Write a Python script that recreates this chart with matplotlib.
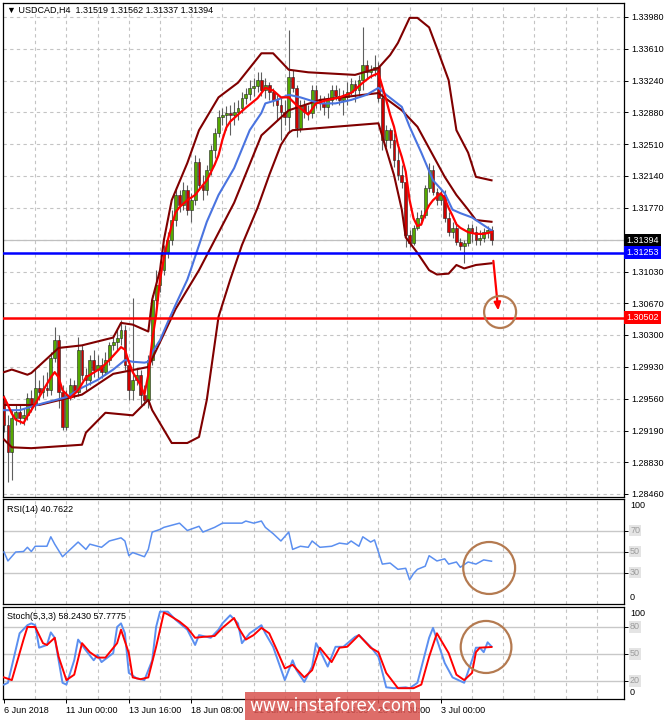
import matplotlib
matplotlib.use("Agg")
import matplotlib.pyplot as plt
import matplotlib.transforms as mtransforms
from matplotlib.patches import Ellipse, Rectangle

plt.rcParams["font.family"] = ["Liberation Sans", "DejaVu Sans"]
plt.rcParams["font.size"] = 6.5

# USDCAD H4 candles
opens = [1.2955, 1.2926, 1.2895, 1.2934, 1.2941, 1.2934, 1.2937, 1.2957, 1.2949, 1.2969,
         1.2964, 1.2969, 1.2966, 1.3003, 1.3024, 1.2964, 1.2924, 1.2961, 1.2972, 1.2964,
         1.3013, 1.2984, 1.2978, 1.3001, 1.2990, 1.2995, 1.2987, 1.3001, 1.3018, 1.3022,
         1.3026, 1.3036, 1.2995, 1.2966, 1.2978, 1.2984, 1.2961, 1.2955, 1.3001, 1.3071,
         1.3088, 1.3105, 1.3126, 1.3140, 1.3163, 1.3192, 1.3180, 1.3198, 1.3175, 1.3186,
         1.3230, 1.3204, 1.3198, 1.3221, 1.3244, 1.3264, 1.3282, 1.3285, 1.3287, 1.3285,
         1.3288, 1.3293, 1.3304, 1.3309, 1.3316, 1.3318, 1.3325, 1.3313, 1.3319, 1.3311,
         1.3302, 1.3296, 1.3288, 1.3282, 1.3329, 1.3316, 1.3270, 1.3296, 1.3288, 1.3287,
         1.3313, 1.3302, 1.3298, 1.3294, 1.3302, 1.3313, 1.3307, 1.3302, 1.3305, 1.3311,
         1.3320, 1.3313, 1.3325, 1.3342, 1.3334, 1.3337, 1.3340, 1.3304, 1.3256, 1.3267,
         1.3256, 1.3233, 1.3215, 1.3207, 1.3146, 1.3136, 1.3154, 1.3165, 1.3169, 1.3200,
         1.3221, 1.3196, 1.3186, 1.3192, 1.3165, 1.3149, 1.3154, 1.3138, 1.3133, 1.3137,
         1.3154, 1.3149, 1.3140, 1.3142, 1.3149, 1.31519]
highs = [1.2961, 1.2937, 1.2943, 1.2949, 1.2949, 1.2946, 1.2963, 1.2966, 1.2992, 1.2978,
         1.2984, 1.2987, 1.3010, 1.3039, 1.3030, 1.2972, 1.2966, 1.2980, 1.2978, 1.3028,
         1.3018, 1.2992, 1.3007, 1.3013, 1.3007, 1.3003, 1.3010, 1.3022, 1.3030, 1.3038,
         1.3047, 1.3042, 1.3001, 1.3073, 1.2992, 1.2990, 1.2972, 1.3007, 1.3076, 1.3105,
         1.3114, 1.3134, 1.3149, 1.3175, 1.3201, 1.3198, 1.3207, 1.3204, 1.3194, 1.3238,
         1.3235, 1.3215, 1.3227, 1.3250, 1.3269, 1.3290, 1.3293, 1.3295, 1.3296, 1.3300,
         1.3302, 1.3311, 1.3316, 1.3325, 1.3327, 1.3334, 1.3334, 1.3327, 1.3323, 1.3316,
         1.3308, 1.3304, 1.3302, 1.3383, 1.3337, 1.3319, 1.3302, 1.3302, 1.3296, 1.3319,
         1.3319, 1.3308, 1.3307, 1.3310, 1.3319, 1.3319, 1.3316, 1.3313, 1.3323, 1.3327,
         1.3325, 1.3331, 1.3386, 1.3348, 1.3342, 1.3354, 1.3346, 1.3310, 1.3273, 1.3270,
         1.3264, 1.3246, 1.3227, 1.3215, 1.3151, 1.3157, 1.3172, 1.3175, 1.3204, 1.3229,
         1.3227, 1.3200, 1.3198, 1.3198, 1.3172, 1.3161, 1.3161, 1.3142, 1.3140, 1.3158,
         1.3158, 1.3156, 1.3151, 1.3154, 1.3156, 1.31562]
lows = [1.2918, 1.2860, 1.2862, 1.2926, 1.2927, 1.2926, 1.2932, 1.2941, 1.2943, 1.2955,
        1.2957, 1.2959, 1.2961, 1.2999, 1.2946, 1.2920, 1.2920, 1.2955, 1.2957, 1.2959,
        1.2978, 1.2966, 1.2972, 1.2981, 1.2980, 1.2980, 1.2984, 1.2995, 1.3013, 1.3013,
        1.3018, 1.2990, 1.2955, 1.2955, 1.2972, 1.2949, 1.2949, 1.2946, 1.2995, 1.3065,
        1.3080, 1.3099, 1.3119, 1.3134, 1.3156, 1.3172, 1.3175, 1.3169, 1.3161, 1.3180,
        1.3198, 1.3186, 1.3192, 1.3215, 1.3235, 1.3259, 1.3273, 1.3267, 1.3261, 1.3273,
        1.3279, 1.3287, 1.3297, 1.3302, 1.3307, 1.3311, 1.3307, 1.3304, 1.3302, 1.3295,
        1.3279, 1.3256, 1.3273, 1.3264, 1.3311, 1.3259, 1.3265, 1.3281, 1.3279, 1.3281,
        1.3293, 1.3290, 1.3285, 1.3281, 1.3296, 1.3302, 1.3296, 1.3285, 1.3296, 1.3308,
        1.3300, 1.3307, 1.3313, 1.3327, 1.3327, 1.3330, 1.3300, 1.3244, 1.3248, 1.3246,
        1.3224, 1.3209, 1.3200, 1.3132, 1.3132, 1.3134, 1.3151, 1.3157, 1.3165, 1.3196,
        1.3192, 1.3180, 1.3180, 1.3161, 1.3145, 1.3142, 1.3134, 1.3128, 1.3113, 1.3133,
        1.3138, 1.3134, 1.3134, 1.3138, 1.3142, 1.31337]
closes = [1.2926, 1.2895, 1.2934, 1.2941, 1.2934, 1.2937, 1.2957, 1.2949, 1.2969, 1.2964,
          1.2969, 1.2966, 1.3003, 1.3024, 1.2964, 1.2924, 1.2961, 1.2972, 1.2964, 1.3013,
          1.2984, 1.2978, 1.3001, 1.2990, 1.2995, 1.2987, 1.3001, 1.3018, 1.3022, 1.3026,
          1.3036, 1.2995, 1.2966, 1.2978, 1.2984, 1.2961, 1.2955, 1.3001, 1.3071, 1.3088,
          1.3105, 1.3126, 1.3140, 1.3163, 1.3192, 1.3180, 1.3198, 1.3175, 1.3186, 1.3230,
          1.3204, 1.3198, 1.3221, 1.3244, 1.3264, 1.3282, 1.3285, 1.3287, 1.3285, 1.3288,
          1.3293, 1.3304, 1.3309, 1.3316, 1.3318, 1.3325, 1.3313, 1.3319, 1.3311, 1.3302,
          1.3296, 1.3288, 1.3282, 1.3329, 1.3316, 1.3270, 1.3296, 1.3288, 1.3287, 1.3313,
          1.3302, 1.3298, 1.3294, 1.3302, 1.3313, 1.3307, 1.3302, 1.3305, 1.3311, 1.3320,
          1.3313, 1.3325, 1.3342, 1.3334, 1.3337, 1.3340, 1.3304, 1.3256, 1.3267, 1.3256,
          1.3233, 1.3215, 1.3207, 1.3146, 1.3136, 1.3154, 1.3165, 1.3169, 1.3200, 1.3221,
          1.3196, 1.3186, 1.3192, 1.3165, 1.3149, 1.3154, 1.3138, 1.3133, 1.3137, 1.3154,
          1.3149, 1.3140, 1.3142, 1.3149, 1.3152, 1.31394]

# indicator lines, (bar, value) read at their turning points
bb_upper = [(0, 1.2987), (2, 1.2990), (6, 1.2984), (7, 1.2986), (14, 1.3015), (20, 1.3018),
            (28, 1.3027), (30, 1.3044), (33, 1.3042), (37, 1.3034), (38, 1.3071), (40, 1.3105),
            (41, 1.3140), (43, 1.3186), (47, 1.3229), (50, 1.3267), (55, 1.3305), (60, 1.3322),
            (66, 1.3356), (69, 1.3356), (73, 1.3337), (78, 1.3334), (90, 1.3331), (96, 1.3339),
            (99, 1.3354), (101, 1.3368), (104, 1.3397), (106, 1.3397), (109, 1.3386),
            (111, 1.3362), (114, 1.3325), (116, 1.3267), (119, 1.3241), (121, 1.3213), (125, 1.3209)]
bb_middle = [(0, 1.2949), (9, 1.2949), (20, 1.2961), (28, 1.2985), (37, 1.2993), (44, 1.3060),
             (50, 1.3105), (59, 1.3183), (66, 1.3261), (73, 1.3290), (81, 1.3302), (96, 1.3310),
             (102, 1.3290), (106, 1.3271), (113, 1.3213), (116, 1.3192), (119, 1.3175),
             (121, 1.3163), (125, 1.3161)]
bb_lower = [(0, 1.2909), (2, 1.2900), (7, 1.2899), (20, 1.2903), (21, 1.2917), (26, 1.2940),
            (33, 1.2937), (37, 1.2955), (38, 1.2943), (43, 1.2905), (47, 1.2905), (50, 1.2912),
            (52, 1.2955), (55, 1.3051), (58, 1.3094), (61, 1.3134), (65, 1.3177), (68, 1.3215),
            (71, 1.3250), (73, 1.3264), (74, 1.3267), (96, 1.3275), (100, 1.3215), (102, 1.3175),
            (103, 1.3143), (106, 1.3125), (109, 1.3105), (111, 1.3100), (114, 1.3101),
            (116, 1.3111), (118, 1.3107), (121, 1.3111), (125, 1.3113)]
ma_fast = [(0, 1.2958), (1, 1.2949), (2, 1.2939), (3, 1.2932), (5, 1.2928), (6, 1.2936), (7, 1.2943),
           (9, 1.2958), (12, 1.2981), (13, 1.2987), (14, 1.2981), (15, 1.2966), (17, 1.2957),
           (19, 1.2966), (21, 1.2981), (25, 1.2992), (27, 1.3001), (30, 1.3016), (31, 1.3013),
           (32, 1.2999), (33, 1.2987), (35, 1.2972), (36, 1.2961), (37, 1.2984), (38, 1.3024),
           (39, 1.3053), (40, 1.3094), (41, 1.3119), (42, 1.3140), (43, 1.3157), (44, 1.3172),
           (45, 1.3178), (47, 1.3186), (49, 1.3192), (50, 1.3198), (52, 1.3209), (54, 1.3227),
           (55, 1.3238), (56, 1.3256), (57, 1.3270), (58, 1.3277), (60, 1.3285), (62, 1.3293),
           (65, 1.3304), (67, 1.3316), (69, 1.3313), (71, 1.3305), (73, 1.3305), (75, 1.3296),
           (78, 1.3285), (80, 1.3298), (83, 1.3302), (86, 1.3305), (89, 1.3310), (92, 1.3322),
           (94, 1.3329), (96, 1.3333), (98, 1.3302), (99, 1.3285), (100, 1.3271), (101, 1.3250),
           (102, 1.3236), (103, 1.3219), (104, 1.3186), (105, 1.3165), (106, 1.3156),
           (107, 1.3158), (108, 1.3171), (109, 1.3180), (110, 1.3186), (112, 1.3194),
           (113, 1.3188), (114, 1.3177), (115, 1.3168), (116, 1.3158), (117, 1.3154),
           (119, 1.3149), (121, 1.3147), (123, 1.3147), (125, 1.3149)]
ma_slow = [(0, 1.2943), (4, 1.2943), (7, 1.2947), (10, 1.2951), (16, 1.2958), (20, 1.2969),
           (24, 1.2978), (26, 1.2984), (28, 1.2990), (31, 1.3001), (33, 1.2999), (36, 1.2998),
           (37, 1.2999), (38, 1.3010), (40, 1.3024), (42, 1.3045), (44, 1.3065), (47, 1.3094),
           (48, 1.3107), (50, 1.3134), (52, 1.3161), (55, 1.3192), (59, 1.3223), (63, 1.3267),
           (66, 1.3287), (67, 1.3298), (70, 1.3302), (73, 1.3308), (76, 1.3305), (81, 1.3298),
           (85, 1.3298), (89, 1.3302), (93, 1.3308), (96, 1.3316), (98, 1.3308), (102, 1.3294),
           (104, 1.3271), (107, 1.3241), (110, 1.3209), (113, 1.3194), (115, 1.3175),
           (117, 1.3171), (120, 1.3166), (125, 1.3151)]

rsi = [(0, 49.5), (1, 41), (3, 49.5), (5, 50), (6, 54), (7, 50), (8, 55), (11, 55), (12, 64),
       (13, 57), (15, 45), (17, 52), (19, 59), (21, 52), (22, 57), (25, 54), (27, 60), (30, 63),
       (31, 60), (32, 46), (33, 49), (36, 45), (37, 52), (38, 68.5), (40, 71), (41, 73), (43, 75),
       (45, 77), (47, 70), (50, 74), (51, 68.5), (54, 73), (56, 77), (61, 77), (62, 79), (64, 77),
       (66, 79), (67, 73), (69, 67), (71, 60), (73, 68.5), (74, 52), (76, 55), (78, 54), (79, 60),
       (81, 54), (84, 55), (86, 58), (88, 57), (89, 60), (91, 55), (92, 64), (94, 59), (95, 61),
       (97, 38), (99, 39), (101, 33), (103, 34), (104, 23), (105, 29), (106, 33), (108, 36),
       (109, 46), (111, 41), (113, 43), (114, 38), (116, 40), (117, 35), (119, 40), (121, 38),
       (123, 42), (125, 40.76)]
stoch_k = [(0, 16), (1, 18), (4, 73), (6, 82), (7, 84), (8, 82), (9, 57), (11, 60), (12, 74),
           (13, 68), (15, 18), (16, 16), (18, 43), (19, 66), (21, 54), (23, 43), (24, 49), (25, 41),
           (28, 51), (29, 80), (30, 84), (31, 73), (32, 29), (34, 23), (36, 21), (38, 43), (39, 80),
           (40, 97), (42, 97), (44, 88), (47, 77), (49, 60), (50, 71), (53, 68), (55, 77), (56, 84),
           (58, 93), (60, 84), (61, 62), (63, 73), (66, 82), (67, 73), (69, 58), (72, 21), (74, 43),
           (75, 32), (77, 19), (79, 36), (80, 62), (81, 54), (83, 36), (85, 58), (87, 58), (90, 69),
           (91, 71), (94, 58), (96, 47), (98, 13), (100, 12), (103, 13), (104, 12), (106, 18),
           (109, 68), (110, 79), (111, 66), (113, 40), (115, 24), (116, 22), (118, 18), (120, 43),
           (121, 57), (122, 57), (123, 52), (124, 63), (125, 58.24)]
stoch_d = [(0, 24), (2, 21), (5, 66), (6, 80), (8, 80), (10, 62), (11, 60), (13, 68), (14, 47),
           (16, 21), (18, 27), (20, 62), (22, 52), (24, 46), (26, 46), (29, 62), (30, 77), (32, 51),
           (33, 24), (35, 22), (37, 24), (39, 58), (41, 96), (42, 94), (45, 86), (47, 79), (49, 68),
           (51, 69), (54, 70), (56, 79), (59, 90), (60, 80), (62, 66), (64, 71), (66, 79), (68, 73),
           (70, 54), (72, 34), (74, 38), (77, 24), (79, 32), (81, 57), (84, 41), (86, 57), (88, 58),
           (91, 71), (94, 57), (96, 52), (98, 29), (101, 12), (105, 12), (107, 16), (109, 47),
           (111, 73), (114, 51), (116, 27), (118, 21), (120, 29), (121, 52), (122, 57), (125, 57.78)]

price_ticks = [1.33980, 1.33610, 1.33240, 1.32880, 1.32510, 1.32140, 1.31770, 1.31400,
               1.31030, 1.30670, 1.30300, 1.29930, 1.29560, 1.29190, 1.28830, 1.28460]
date_bars = [0, 16, 32, 48, 64, 80, 96, 112]
date_labels = ["6 Jun 2018", "11 Jun 00:00", "13 Jun 16:00", "18 Jun 08:00",
               "21 Jun 00:00", "25 Jun 16:00", "28 Jun 08:00", "3 Jul 00:00"]
last_price = 1.31394
support = 1.31253
target = 1.30502


def unzip(pts):
    return [p[0] for p in pts], [p[1] for p in pts]


fig = plt.figure(figsize=(6.65, 7.2), dpi=100)
W, H = 665, 720
ax = fig.add_axes([3 / W, 1 - 497 / H, 621 / W, 494 / H])
ax_rsi = fig.add_axes([3 / W, 1 - 604 / H, 621 / W, 105 / H], sharex=ax)
ax_st = fig.add_axes([3 / W, 1 - 699 / H, 621 / W, 92 / H], sharex=ax)

grid_kw = dict(color="#c4c4c4", lw=0.8, ls=(0, (3, 3)), zorder=0)
for a in (ax, ax_rsi, ax_st):
    for b in range(8, 160, 8):
        a.axvline(b, **grid_kw)
    for s in a.spines.values():
        s.set_color("black")
        s.set_linewidth(0.9)
    a.tick_params(axis="y", left=False, labelleft=False, right=True, labelright=False,
                  length=3, width=0.7, pad=2)
    a.tick_params(axis="x", length=3, width=0.7)

# ---- main chart ----
for p in price_ticks:
    ax.axhline(p, **grid_kw)

bars = list(range(len(closes)))
up = [c >= o for o, c in zip(opens, closes)]
ax.vlines(bars, lows, highs, color="#5f5f5f", lw=0.8, zorder=2)
ax.bar(bars, [max(abs(c - o), 0.00005) for o, c in zip(opens, closes)],
       bottom=[min(o, c) for o, c in zip(opens, closes)], width=0.72,
       color=["#55a800" if u else "#d00000" for u in up],
       edgecolor="#222222", linewidth=0.4, zorder=3)

for pts in (bb_upper, bb_middle, bb_lower):
    ax.plot(*unzip(pts), color="#800000", lw=1.5, zorder=4)
ax.plot(*unzip(ma_slow), color="#4a74e0", lw=1.5, zorder=5)
ax.plot(*unzip(ma_fast), color="#ff0000", lw=1.6, zorder=6)

ax.axhline(last_price, color="#c0c0c0", lw=0.9, zorder=1)
ax.axhline(support, color="#0000ff", lw=1.8, zorder=7)
ax.axhline(target, color="#ff0000", lw=1.8, zorder=7)

ax.set_xlim(-0.26, 158.97)
ax.set_ylim(1.28425, 1.34142)
ax.set_yticks(price_ticks)
ax.tick_params(axis="y", labelright=True, labelsize=6.5)
# the 1.31400 label sits under the last-price box, as in the terminal
ax.set_yticklabels(["" if abs(p - last_price) < 0.0002 else f"{p:.5f}" for p in price_ticks])
ax.tick_params(axis="x", labelbottom=False, length=0)

tr = mtransforms.blended_transform_factory(ax.transAxes, ax.transData)
for val, fc in ((last_price, "black"), (support, "#0000ff"), (target, "#ff0000")):
    ax.text(1.0035, val, f"{val:.5f}", transform=tr, ha="left", va="center", color="white",
            fontsize=6.5, zorder=10,
            bbox=dict(boxstyle="square,pad=0.25", fc=fc, ec="none"))

ax.annotate("", xy=(126.8, 1.3055), xytext=(125.4, 1.3119),
            arrowprops=dict(arrowstyle="-|>,head_length=0.7,head_width=0.3",
                            color="#ff0000", lw=1.6))
ax.add_patch(Ellipse((127.2, 1.30566), 8.2, 0.0037, fill=False, ec="#b47a50", lw=1.6, zorder=8))

fig.text(7 / W, 1 - 10 / H, "\u25bc USDCAD,H4  1.31519 1.31562 1.31337 1.31394",
         ha="left", va="center", fontsize=6.5)

# ---- RSI ----
for lvl in (70, 50, 30):
    ax_rsi.axhline(lvl, color="#c8c8c8", lw=1.0, zorder=1)
ax_rsi.plot(*unzip(rsi), color="#5b8ff0", lw=1.1, zorder=3)
ax_rsi.set_ylim(0, 100)
ax_rsi.tick_params(axis="x", labelbottom=False, length=0)
ax_rsi.set_yticks([70, 50, 30])
ax_rsi.add_patch(Ellipse((124.4, 34.3), 13.3, 49.5, fill=False, ec="#b47a50", lw=1.6, zorder=8))
ax_rsi.text(0.007, 0.9, "RSI(14) 40.7622", transform=ax_rsi.transAxes, fontsize=6.5,
            ha="left", va="center")
tr_r = mtransforms.blended_transform_factory(ax_rsi.transAxes, ax_rsi.transData)
ax_rsi.text(1.0097, 98, "100", transform=tr_r, fontsize=6.5, ha="left", va="top")
ax_rsi.text(1.0097, 2, "0", transform=tr_r, fontsize=6.5, ha="left", va="bottom")
for lvl in (70, 50, 30):
    ax_rsi.text(1.0097, lvl, str(lvl), transform=tr_r, fontsize=6.5, ha="left", va="center",
                color="#9c9c9c", bbox=dict(boxstyle="square,pad=0.15", fc="#e4e4e4", ec="none"))

# ---- Stochastic ----
for lvl in (80, 50, 20):
    ax_st.axhline(lvl, color="#c8c8c8", lw=1.0, zorder=1)
ax_st.plot(*unzip(stoch_k), color="#5b8ff0", lw=1.4, zorder=3)
ax_st.plot(*unzip(stoch_d), color="#ff0000", lw=1.4, zorder=4)
ax_st.set_ylim(0, 102.2)
ax_st.set_yticks([80, 50, 20])
ax_st.add_patch(Ellipse((123.6, 57.8), 13.0, 57.8, fill=False, ec="#b47a50", lw=1.6, zorder=8))
ax_st.text(0.007, 0.9, "Stoch(5,3,3) 58.2430 57.7775", transform=ax_st.transAxes,
           fontsize=6.5, ha="left", va="center")
tr_s = mtransforms.blended_transform_factory(ax_st.transAxes, ax_st.transData)
ax_st.text(1.0097, 100, "100", transform=tr_s, fontsize=6.5, ha="left", va="top")
ax_st.text(1.0097, 2, "0", transform=tr_s, fontsize=6.5, ha="left", va="bottom")
for lvl in (80, 50, 20):
    ax_st.text(1.0097, lvl, str(lvl), transform=tr_s, fontsize=6.5, ha="left", va="center",
               color="#9c9c9c", bbox=dict(boxstyle="square,pad=0.15", fc="#e4e4e4", ec="none"))

ax_st.set_xticks(date_bars)
ax_st.set_xticklabels(date_labels, fontsize=6.5)
for lbl in ax_st.get_xticklabels():
    lbl.set_ha("left")
ax_st.tick_params(axis="x", pad=2)

# watermark (the date labels show faintly through it, as in the reference)
fig.add_artist(Rectangle((245 / W, 0), 175 / W, 28 / H, transform=fig.transFigure,
                         fc="#d9534f", ec="none", alpha=0.85, zorder=20))
fig.text(333 / W, 1 - 706 / H, "www.instaforex.com", color="white", fontsize=12,
         ha="center", va="center", zorder=21, family="DejaVu Sans")

fig.savefig("out.png", dpi=100)
